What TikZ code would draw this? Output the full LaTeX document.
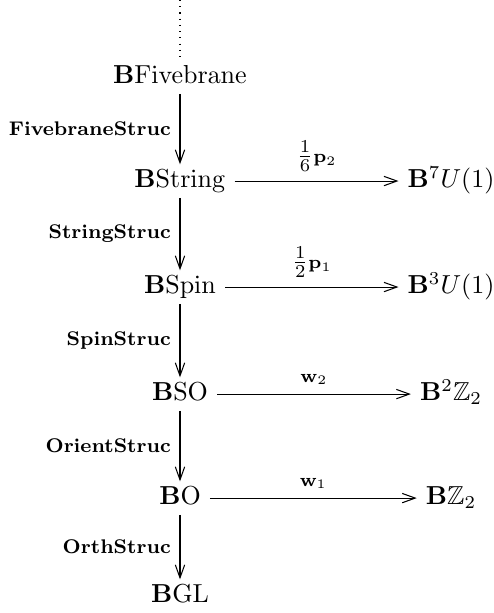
\documentclass[tikz,border=0pt]{standalone}
\usepackage{amsmath,amssymb}
\usetikzlibrary{positioning,arrows.meta}
\tikzset{
  flow/.style={-{Straight Barb[length=5pt,width=3.6pt]},thin,draw=black},
  dotflow/.style={thin,dotted,draw=black},
  stage/.style={inner xsep=3.33pt,inner ysep=1.5pt,text height=1.7ex,text depth=.5ex,font=\normalsize},
  struc/.style={left,font=\fontsize{7.6}{9}\selectfont\bfseries},
  classlabel/.style={above,font=\normalsize}
}
\begin{document}
\begin{tikzpicture}[on grid]
  \useasboundingbox (-69.23pt,-206.15pt) rectangle (120.77pt,29.62pt);
  \coordinate (top) at (0,29.62pt);
  \node[stage] (fivebrane) at (0,0) {$\mathbf{B}\mathrm{Fivebrane}$};
  \node[stage,below=1.406cm of fivebrane] (string) {$\mathbf{B}\mathrm{String}$};
  \node[stage,below=1.433cm of string] (spin) {$\mathbf{B}\mathrm{Spin}$};
  \node[stage,below=1.447cm of spin] (so) {$\mathbf{B}\mathrm{SO}$};
  \node[stage,below=1.406cm of so] (o) {$\mathbf{B}\mathrm{O}$};
  \node[stage,below=1.325cm of o] (gl) {$\mathbf{B}\mathrm{GL}$};
  \node[stage,right=3.664cm of string] (u7) {$\mathbf{B}^7U(1)$};
  \node[stage,right=3.664cm of spin] (u3) {$\mathbf{B}^3U(1)$};
  \node[stage,right=3.664cm of so] (z2two) {$\mathbf{B}^2\mathbb{Z}_2$};
  \node[stage,right=3.664cm of o] (z2one) {$\mathbf{B}\mathbb{Z}_2$};
  \draw[dotflow] (top) -- (fivebrane);
  \draw[flow] (fivebrane) -- node[struc] {FivebraneStruc} (string);
  \draw[flow] (string) -- node[struc] {StringStruc} (spin);
  \draw[flow] (spin) -- node[struc] {SpinStruc} (so);
  \draw[flow] (so) -- node[struc] {OrientStruc} (o);
  \draw[flow] (o) -- node[struc] {OrthStruc} (gl);
  \draw[flow] (string) -- node[classlabel] {$\scriptstyle\tfrac{1}{6}\mathbf{p}_2$} (u7);
  \draw[flow] (spin) -- node[classlabel] {$\scriptstyle\tfrac{1}{2}\mathbf{p}_1$} (u3);
  \draw[flow] (so) -- node[classlabel] {$\scriptstyle\mathbf{w}_2$} (z2two);
  \draw[flow] (o) -- node[classlabel] {$\scriptstyle\mathbf{w}_1$} (z2one);
\end{tikzpicture}
\end{document}
